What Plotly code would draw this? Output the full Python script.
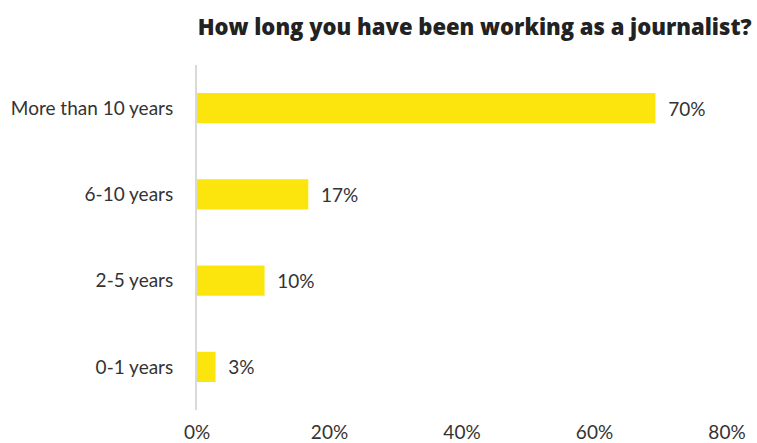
import plotly.graph_objects as go

categories = ["0-1 years", "2-5 years", "6-10 years", "More than 10 years"]
values = [2.8, 10.2, 16.8, 69.2]
labels = ["3%", "10%", "17%", "70%"]
tick_vals = [0, 20, 40, 60, 80]
tick_text = ["0%", "20%", "40%", "60%", "80%"]

fig = go.Figure(go.Bar(
    x=values, y=categories, orientation="h",
    marker=dict(color="#FBE50C", line=dict(width=0)),
    width=0.35,
    text=["\u00a0\u00a0" + t for t in labels], textposition="outside",
    textfont=dict(family="Lato", size=19, color="#333333"),
    cliponaxis=False,
))

fig.update_layout(
    width=757, height=443,
    margin=dict(l=197, r=30, t=65, b=33, autoexpand=False),
    paper_bgcolor="white", plot_bgcolor="white",
    showlegend=False,
    title=dict(text="How long you have been working as a journalist?",
               x=0.627, xanchor="center", y=0.939, yanchor="middle",
               font=dict(family="Open Sans", size=22, weight=800, color="#222222")),
    xaxis=dict(range=[0, 80], tickvals=tick_vals, ticktext=tick_text,
               showgrid=False, zeroline=False, showline=False, automargin=False,
               ticks="outside", ticklen=5, tickcolor="rgba(0,0,0,0)",
               tickfont=dict(family="Lato", size=19, color="#333333")),
    yaxis=dict(showgrid=False, zeroline=False, showline=True, automargin=False,
               linecolor="#D9D9D9", linewidth=2,
               ticks="outside", ticklen=18, tickcolor="rgba(0,0,0,0)",
               tickfont=dict(family="Lato", size=19, color="#333333")),
)

fig.write_html("out.html")
